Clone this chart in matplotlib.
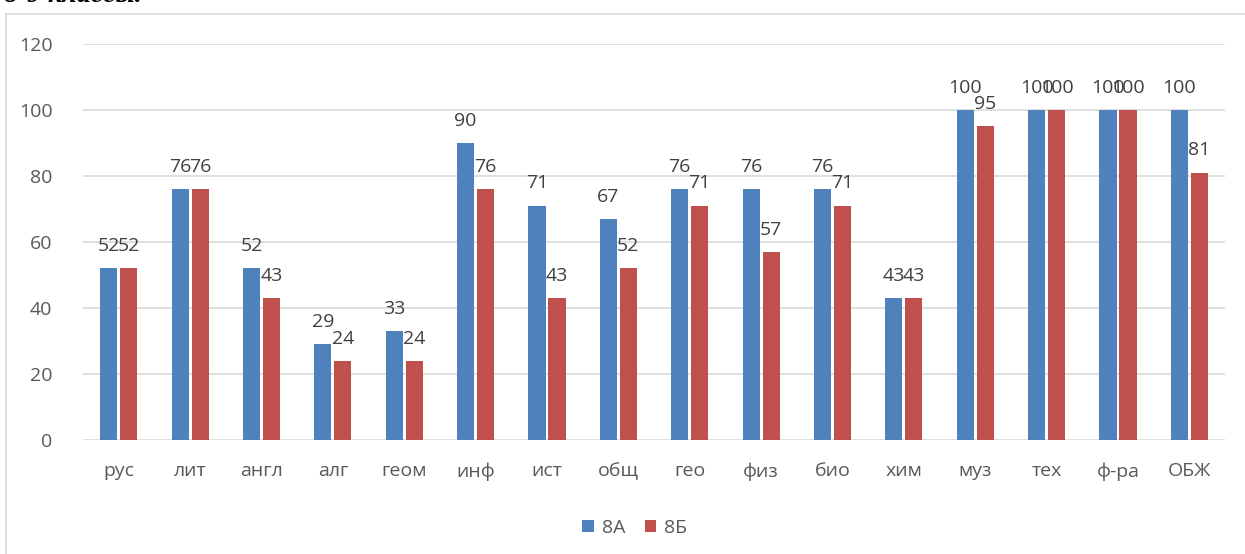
import numpy as np
import matplotlib.pyplot as plt
from matplotlib.patches import Rectangle

subjects = ['рус', 'лит', 'англ', 'алг', 'геом', 'инф', 'ист', 'общ',
            'гео', 'физ', 'био', 'хим', 'муз', 'тех', 'ф-ра', 'ОБЖ']
class_8a = [52, 76, 52, 29, 33, 90, 71, 67, 76, 76, 76, 43, 100, 100, 100, 100]
class_8b = [52, 76, 43, 24, 24, 76, 43, 52, 71, 57, 71, 43, 95, 100, 100, 81]

plt.rcParams['font.family'] = ['Open Sans', 'DejaVu Sans']

fig = plt.figure(figsize=(12.45, 5.54), dpi=100)
ax = fig.add_axes([0.0667, 0.2058, 0.9173, 0.7148])

# outer chart frame and cut-off caption above it
fig.patches.append(Rectangle((6 / 1245, -0.1), 1.2, 1 - 14 / 554 + 0.1,
                             transform=fig.transFigure, fill=False,
                             edgecolor='#d9d9d9', linewidth=1.2))
fig.text(0.003, 1.0 + 0.03, '8-9 классы.', fontsize=20, fontstyle='italic',
         fontweight='bold', family='Liberation Serif', va='top', ha='left')

x = np.arange(len(subjects))
w = 0.24
b1 = ax.bar(x - w / 2 - 0.02, class_8a, w, color='#4f81bd', label='8А')
b2 = ax.bar(x + w / 2 + 0.02, class_8b, w, color='#c0504d', label='8Б')

for bars in (b1, b2):
    for r in bars:
        ax.text(r.get_x() + r.get_width() / 2, r.get_height() + 4,
                f'{int(r.get_height())}', ha='center', va='bottom',
                fontsize=14, color='#404040')

ax.set_xlim(-0.5, len(subjects) - 0.5)
ax.set_ylim(0, 120)
ax.set_yticks(range(0, 121, 20))
ax.set_xticks(x)
ax.set_xticklabels(subjects)
ax.tick_params(length=0, labelsize=14, labelcolor='#595959')
ax.tick_params(axis='y', pad=22)
ax.tick_params(axis='x', pad=16)
ax.grid(axis='y', color='#d9d9d9', linewidth=1.2)
ax.set_axisbelow(True)
for s in ax.spines.values():
    s.set_visible(False)

ax.legend(loc='upper center', bbox_to_anchor=(0.483, -0.155), ncol=2,
          frameon=False, fontsize=14, handlelength=0.6, handleheight=0.6,
          columnspacing=1.0, handletextpad=0.4, labelcolor='#595959')

fig.savefig('out.png', dpi=100)
